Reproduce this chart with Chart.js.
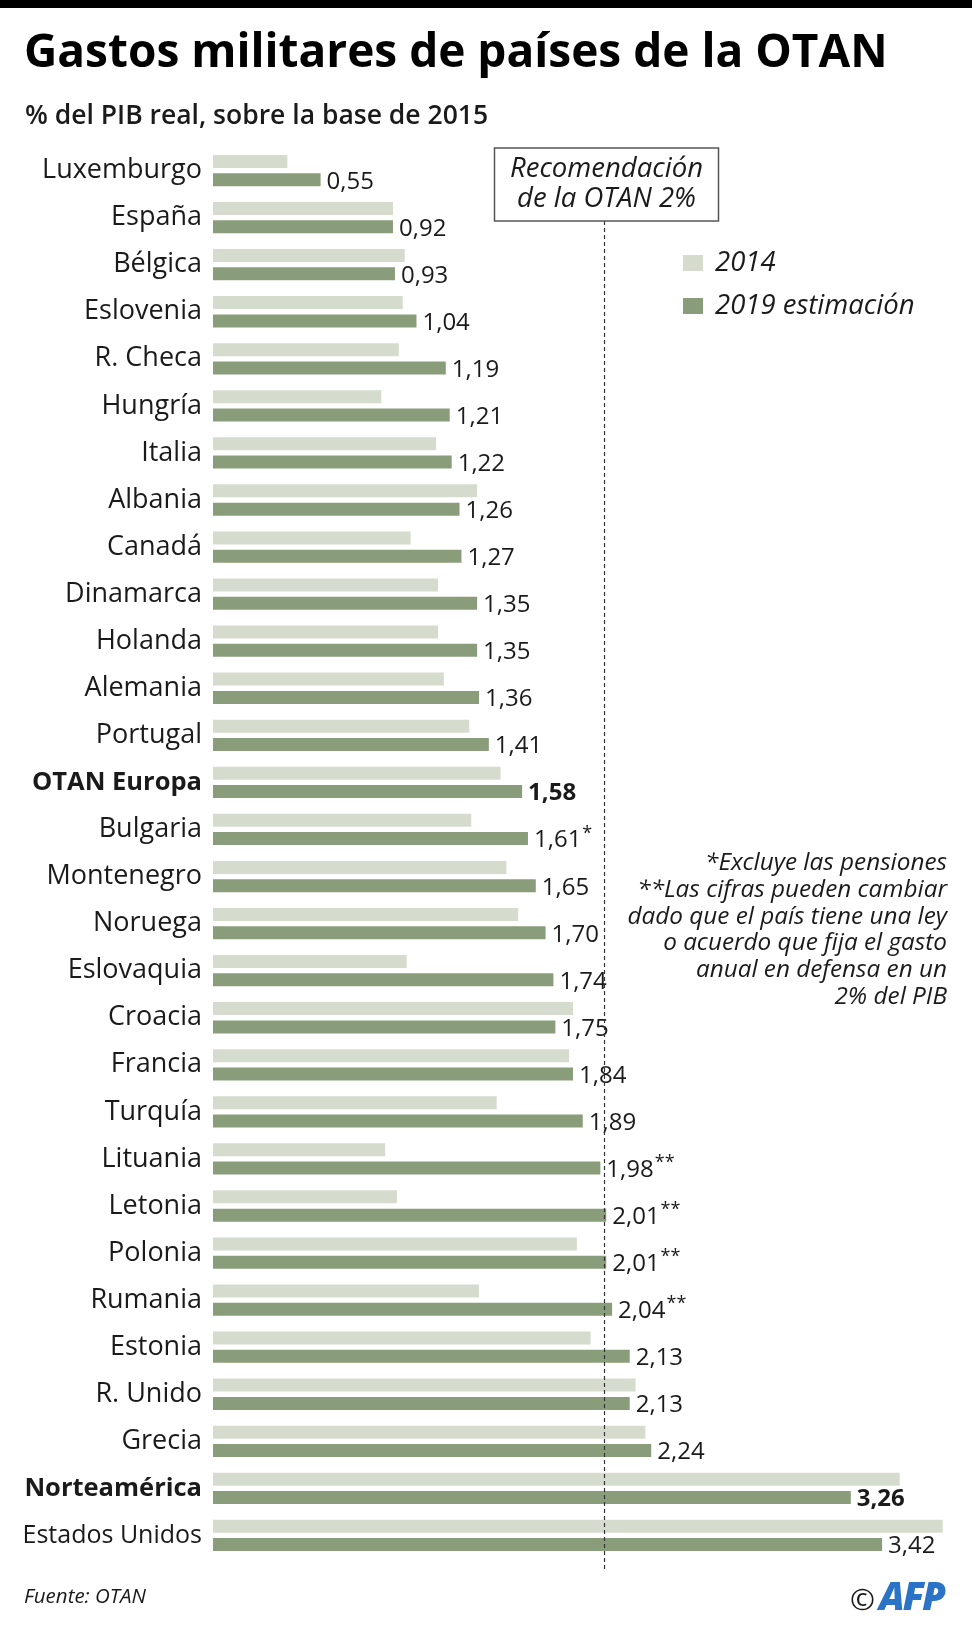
<!DOCTYPE html>
<html lang="es">
<head>
    <meta charset="UTF-8">
    <title>Gastos militares de países de la OTAN</title>
    <script src="https://cdn.jsdelivr.net/npm/chart.js"></script>
    <style>
        body {
            margin: 0;
            background-color: #fff;
            font-family: "Open Sans", sans-serif;
            color: #1a1a1a;
        }
        .page {
            position: relative;
            width: 980px;
            height: 1637px;
            overflow: hidden;
        }
        #chart {
            position: absolute;
            left: 0;
            top: 0;
        }
        .topbar {
            position: absolute;
            left: 0;
            top: 0;
            width: 972px;
            height: 8px;
            background: #000;
        }
        .title {
            position: absolute;
            left: 24px;
            top: 26px;
            font-size: 46px;
            line-height: 46px;
            font-weight: 700;
            color: #000;
        }
        .subtitle {
            position: absolute;
            left: 25px;
            top: 99px;
            font-size: 26.5px;
            line-height: 30px;
            font-weight: 600;
        }
        .legend {
            position: absolute;
            left: 683px;
            top: 243px;
            font-size: 27.5px;
            font-style: italic;
        }
        .legend div {
            height: 43px;
            line-height: 36px;
        }
        .legend span {
            display: inline-block;
            width: 20px;
            height: 16px;
            margin-right: 12px;
        }
        .notes {
            position: absolute;
            right: 33px;
            top: 848px;
            font-size: 24.3px;
            line-height: 26.8px;
            font-style: italic;
            text-align: right;
        }
        .source {
            position: absolute;
            left: 24px;
            top: 1583px;
            font-size: 20.5px;
            line-height: 24px;
            font-style: italic;
        }
        .logo {
            position: absolute;
            left: 850px;
            top: 1577px;
            font-size: 30px;
            line-height: 36px;
        }
        .logo b {
            margin-left: 4px;
            color: #2a73c6;
            font-size: 38px;
            font-style: italic;
            font-weight: 800;
            letter-spacing: -2px;
        }
    </style>
</head>
<body>
<div class="page">
    <canvas id="chart" width="980" height="1637"></canvas>
    <div class="topbar"></div>
    <div class="title">Gastos militares de países de la OTAN</div>
    <div class="subtitle">% del PIB real, sobre la base de 2015</div>
    <div class="legend">
        <div><span style="background:#d6dccd"></span>2014</div>
        <div><span style="background:#8a9d7a"></span>2019 estimación</div>
    </div>
    <div class="notes">
        *Excluye las pensiones<br>
        **Las cifras pueden cambiar<br>
        dado que el país tiene una ley<br>
        o acuerdo que fija el gasto<br>
        anual en defensa en un<br>
        2% del PIB
    </div>
    <div class="source">Fuente: OTAN</div>
    <div class="logo">©<b>AFP</b></div>
</div>

<script>
    const countries = ['Luxemburgo', 'España', 'Bélgica', 'Eslovenia', 'R. Checa', 'Hungría', 'Italia',
        'Albania', 'Canadá', 'Dinamarca', 'Holanda', 'Alemania', 'Portugal', 'OTAN Europa', 'Bulgaria',
        'Montenegro', 'Noruega', 'Eslovaquia', 'Croacia', 'Francia', 'Turquía', 'Lituania', 'Letonia',
        'Polonia', 'Rumania', 'Estonia', 'R. Unido', 'Grecia', 'Norteamérica', 'Estados Unidos'];
    const gasto2014 = [0.38, 0.92, 0.98, 0.97, 0.95, 0.86, 1.14, 1.35, 1.01, 1.15, 1.15, 1.18, 1.31, 1.47, 1.32,
        1.50, 1.56, 0.99, 1.84, 1.82, 1.45, 0.88, 0.94, 1.86, 1.36, 1.93, 2.16, 2.21, 3.51, 3.73];
    const gasto2019 = [0.55, 0.92, 0.93, 1.04, 1.19, 1.21, 1.22, 1.26, 1.27, 1.35, 1.35, 1.36, 1.41, 1.58, 1.61,
        1.65, 1.70, 1.74, 1.75, 1.84, 1.89, 1.98, 2.01, 2.01, 2.04, 2.13, 2.13, 2.24, 3.26, 3.42];
    const marks = ['', '', '', '', '', '', '', '', '', '', '', '', '', '', '*',
        '', '', '', '', '', '', '**', '**', '**', '**', '', '', '', '', ''];
    const boldRows = ['OTAN Europa', 'Norteamérica'];
    const target = 2; // NATO recommendation, % of GDP

    Chart.defaults.font.family = '"Open Sans", sans-serif';
    Chart.defaults.color = '#1a1a1a';

    // value labels at the end of the 2019 bars
    const valueLabels = {
        id: 'valueLabels',
        afterDatasetsDraw(chart) {
            const ctx = chart.ctx;
            const meta = chart.getDatasetMeta(1);
            ctx.save();
            ctx.textAlign = 'left';
            ctx.textBaseline = 'middle';
            ctx.fillStyle = '#1a1a1a';
            meta.data.forEach((bar, i) => {
                const txt = gasto2019[i].toFixed(2).replace('.', ',');
                const bold = boldRows.includes(countries[i]);
                ctx.font = (bold ? '700' : '400') + ' 24px "Open Sans"';
                const x = bar.x + 6;
                const y = bar.y + 2;
                ctx.fillText(txt, x, y);
                if (marks[i]) {
                    const w = ctx.measureText(txt).width;
                    ctx.font = '400 18px "Open Sans"';
                    ctx.fillText(marks[i], x + w + 1, y - 7);
                }
            });
            ctx.restore();
        }
    };

    // dashed 2% line with its caption box
    const targetLine = {
        id: 'targetLine',
        afterDatasetsDraw(chart) {
            const ctx = chart.ctx;
            const x = Math.round(chart.scales.x.getPixelForValue(target)) + 0.5;
            ctx.save();
            ctx.strokeStyle = '#333';
            ctx.lineWidth = 1.2;
            ctx.setLineDash([4, 3]);
            ctx.beginPath();
            ctx.moveTo(x, 221);
            ctx.lineTo(x, 1569);
            ctx.stroke();

            ctx.setLineDash([]);
            ctx.strokeStyle = '#555';
            ctx.lineWidth = 1.5;
            ctx.fillStyle = '#fff';
            ctx.fillRect(x - 110, 148, 224, 73);
            ctx.strokeRect(x - 110, 148, 224, 73);

            ctx.fillStyle = '#1a1a1a';
            ctx.font = 'italic 400 27.5px "Open Sans"';
            ctx.textAlign = 'center';
            ctx.textBaseline = 'middle';
            ctx.fillText('Recomendación', x + 2, 169);
            ctx.fillText('de la OTAN 2%', x + 2, 199);
            ctx.restore();
        }
    };

    new Chart(document.getElementById('chart'), {
        type: 'bar',
        data: {
            labels: countries,
            datasets: [{
                label: '2014',
                data: gasto2014,
                backgroundColor: '#d6dccd',
                categoryPercentage: 0.778,
                barPercentage: 0.71
            }, {
                label: '2019 estimación',
                data: gasto2019,
                backgroundColor: '#8a9d7a',
                categoryPercentage: 0.778,
                barPercentage: 0.71
            }]
        },
        options: {
            indexAxis: 'y',
            responsive: false,
            animation: false,
            devicePixelRatio: 1,
            layout: {
                padding: { top: 147, bottom: 78, left: 0, right: 4 }
            },
            plugins: {
                legend: { display: false },
                tooltip: { enabled: false }
            },
            scales: {
                x: {
                    display: false,
                    min: 0,
                    max: 3.9
                },
                y: {
                    grid: { display: false, drawTicks: false },
                    border: { display: false },
                    afterFit(scale) {
                        scale.width = 213;
                    },
                    ticks: {
                        padding: 11,
                        color: '#1a1a1a',
                        font: (c) => {
                            const name = countries[c.index];
                            if (boldRows.includes(name)) return { size: 25.5, weight: '700' };
                            // the long US label is set a bit tighter in the original
                            if (name === 'Estados Unidos') return { size: 25, weight: '400' };
                            return { size: 27, weight: '400' };
                        }
                    }
                }
            }
        },
        plugins: [valueLabels, targetLine]
    });
</script>
</body>
</html>
